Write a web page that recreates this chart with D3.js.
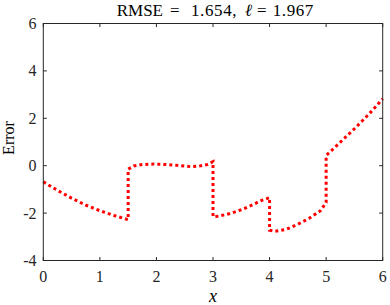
<!DOCTYPE html>
<html><head><meta charset="utf-8">
<script src="https://cdn.jsdelivr.net/npm/d3@7"></script>
<style>body{margin:0;background:#fff}svg{display:block}</style>
</head><body>
<svg id="c" width="390" height="305"></svg>
<script>
const xVals = [0,0.25,0.5,0.75,1.0,1.25,1.5, 1.5,1.6,1.75,1.95,2.15,2.35,2.6,2.75,2.9,3.0, 3.0,3.1,3.3,3.5,3.7,3.85,4.0, 4.0,4.1,4.3,4.5,4.7,4.9,5.0, 5.0,5.25,5.5,5.75,6.0];
const yVals = [-0.68,-1.04,-1.37,-1.66,-1.9,-2.1,-2.28, -0.15,-0.01,0.05,0.07,0.05,0.02,-0.04,-0.02,0.05,0.17, -2.15,-2.13,-2.02,-1.86,-1.65,-1.47,-1.35, -2.72,-2.77,-2.68,-2.47,-2.22,-1.9,-1.55, 0.43,0.99,1.56,2.16,2.82];
const xTicks = [0,1,2,3,4,5,6];
const yTicks = [-4,-2,0,2,4,6];
const titleParts = ["RMSE", "=", "1.654,", "\u2113", "=", "1.967"];
const titleOffsets = [0, 53.3, 74.3, 128.3, 140.3, 156];

const svg = d3.select("#c");
const L = 43.3, R = 382.7, T = 23.5, B = 260.5;
const x = d3.scaleLinear().domain([0,6]).range([L,R]);
const y = d3.scaleLinear().domain([-4,6]).range([B,T]);
const axCol = "#262626";
const font = "Liberation Serif, DejaVu Serif, Noto Serif, Times, serif";

const line = d3.line().x((d,i)=>x(xVals[i])).y((d,i)=>y(yVals[i]));
svg.append("path").datum(xVals).attr("d", line)
  .attr("fill","none").attr("stroke","#ff0000").attr("stroke-width",3)
  .attr("stroke-dasharray","3,3");

svg.append("rect").attr("x",L).attr("y",T).attr("width",R-L).attr("height",B-T)
  .attr("fill","none").attr("stroke",axCol).attr("stroke-width",1);

const tl = 3.5;
xTicks.forEach(t=>{
  svg.append("line").attr("x1",x(t)).attr("x2",x(t)).attr("y1",B).attr("y2",B-tl).attr("stroke",axCol);
  svg.append("line").attr("x1",x(t)).attr("x2",x(t)).attr("y1",T).attr("y2",T+tl).attr("stroke",axCol);
  svg.append("text").attr("x",x(t)).attr("y",282).attr("text-anchor","middle")
    .style("font-family",font).attr("font-size",16).attr("fill",axCol).text(t);
});
yTicks.forEach(t=>{
  svg.append("line").attr("x1",L).attr("x2",L+tl).attr("y1",y(t)).attr("y2",y(t)).attr("stroke",axCol);
  svg.append("line").attr("x1",R).attr("x2",R-tl).attr("y1",y(t)).attr("y2",y(t)).attr("stroke",axCol);
  svg.append("text").attr("x",36.5).attr("y",y(t)+5.5).attr("text-anchor","end")
    .style("font-family",font).attr("font-size",16).attr("fill",axCol).text(t<0?"-"+Math.abs(t):t);
});

const title = svg.append("text").attr("y",15.5)
  .style("font-family",font).attr("font-size",17).attr("fill","#000");
titleParts.forEach((p,i)=>{
  title.append("tspan").attr("x",116.7+titleOffsets[i])
    .attr("font-style", i===3 ? "italic" : null)
    .attr("letter-spacing", (i===2||i===5) ? 0.6 : null)
    .text(p);
});
svg.append("text").attr("x",(L+R)/2).attr("y",302).attr("text-anchor","middle")
  .style("font-family",font).attr("font-style","italic").attr("font-size",18).attr("fill","#000").text("x");
svg.append("text").attr("transform",`translate(13.5,138) rotate(-90)`).attr("text-anchor","middle")
  .style("font-family",font).attr("font-size",16).attr("fill","#000").text("Error");
</script>
</body></html>
